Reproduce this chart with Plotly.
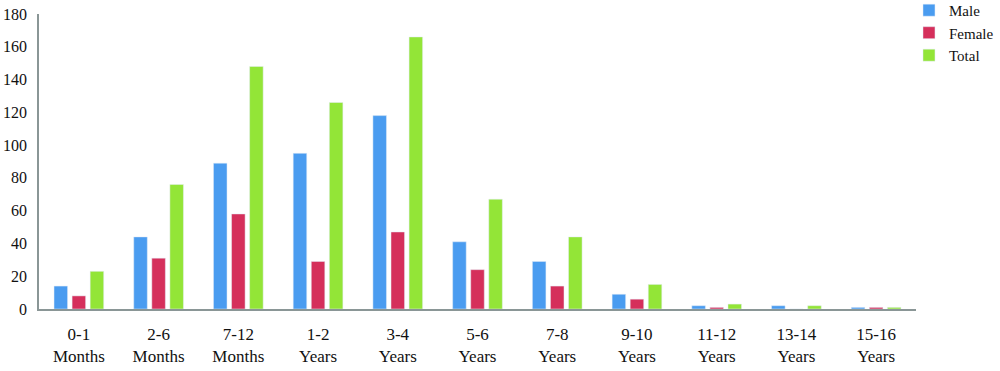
import plotly.graph_objects as go

categories = ["0-1<br>Months", "2-6<br>Months", "7-12<br>Months", "1-2<br>Years", "3-4<br>Years",
              "5-6<br>Years", "7-8<br>Years", "9-10<br>Years", "11-12<br>Years", "13-14<br>Years", "15-16<br>Years"]
male = [14, 44, 89, 95, 118, 41, 29, 9, 2, 2, 1]
female = [8, 31, 58, 29, 47, 24, 14, 6, 1, 0, 1]
total = [23, 76, 148, 126, 166, 67, 44, 15, 3, 2, 1]

font_family = "Liberation Serif, DejaVu Serif, serif"

fig = go.Figure()
fig.add_trace(go.Bar(name="Male", x=categories, y=male, marker_color="#4a9cf0"))
fig.add_trace(go.Bar(name="Female", x=categories, y=female, marker_color="#d52f5b"))
fig.add_trace(go.Bar(name="Total", x=categories, y=total, marker_color="#93e537"))

fig.update_layout(
    width=1000, height=371,
    margin=dict(l=39, r=84, t=14, b=62, autoexpand=False),
    paper_bgcolor="white", plot_bgcolor="white",
    barmode="group", bargap=0.32, bargroupgap=0.25,
    font=dict(family=font_family, size=17, color="#111111"),
    legend=dict(xref="paper", yref="paper", x=0.992, y=1.068,
                xanchor="left", yanchor="top",
                font=dict(family=font_family, size=15, color="#111111"),
                tracegroupgap=0, itemwidth=30, bgcolor="rgba(0,0,0,0)",
                borderwidth=0),
    showlegend=True,
)
fig.update_xaxes(showline=True, linecolor="#8a9696", linewidth=1.5, showgrid=False,
                 ticks="", tickfont=dict(size=17), ticklabelstandoff=9, automargin=False)
fig.update_yaxes(range=[0, 180], dtick=20, showline=True, linecolor="#8a9696", linewidth=1.5,
                 showgrid=False, zeroline=False, ticks="", tickfont=dict(size=16),
                 ticklabelstandoff=7, automargin=False)

fig.write_html("out.html", config={"displayModeBar": False},
               post_script="document.body.style.margin='0';")
